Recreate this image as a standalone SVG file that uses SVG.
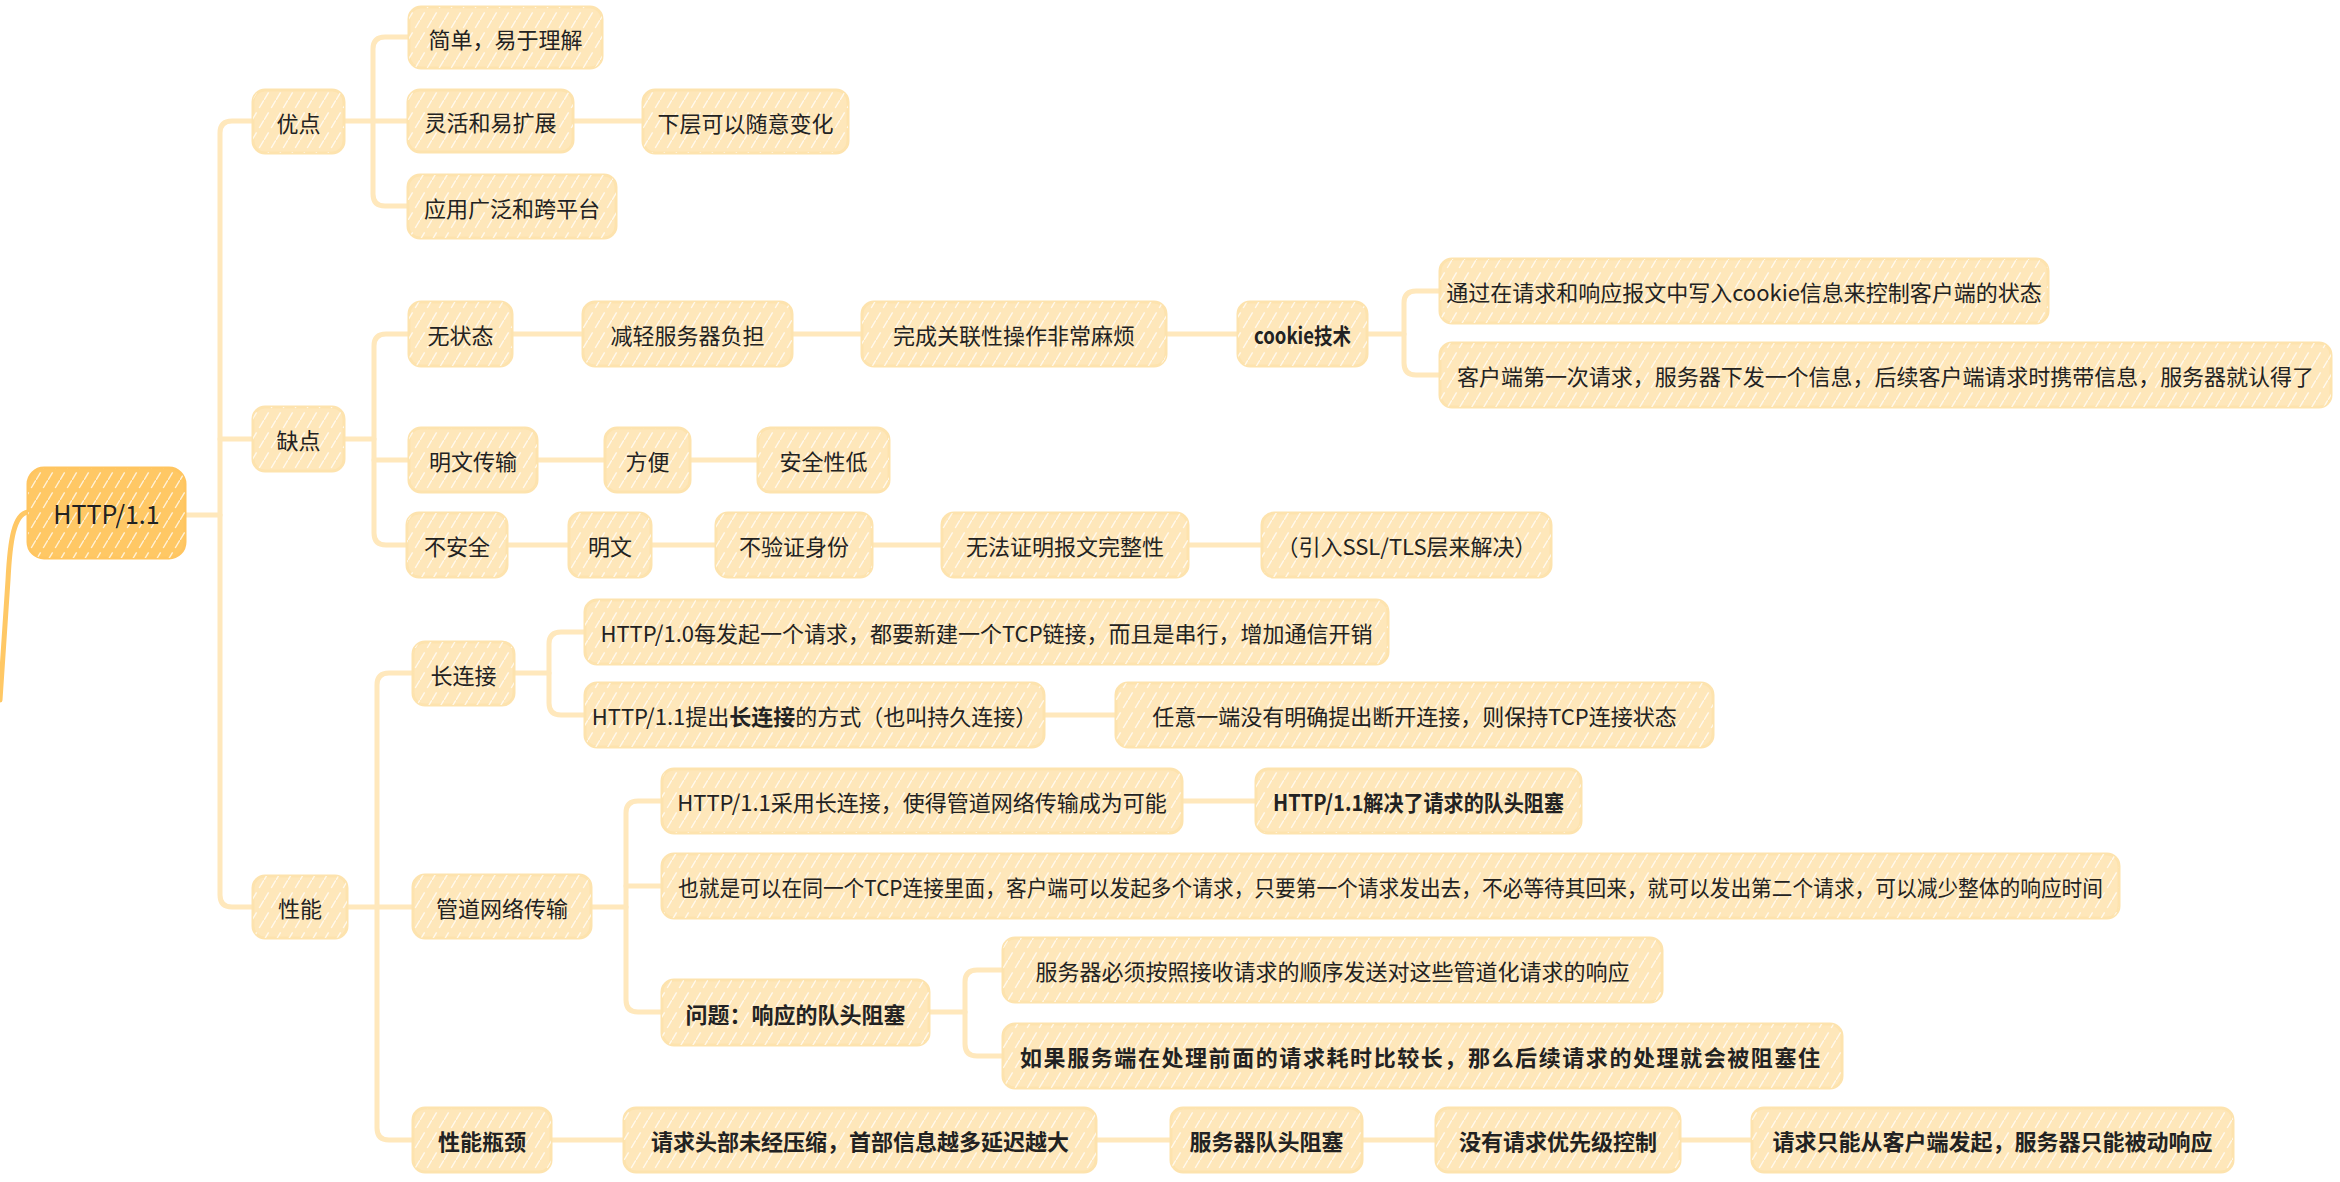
<svg xmlns="http://www.w3.org/2000/svg" width="2340" height="1182" viewBox="0 0 2340 1182">
<defs>
<pattern id="hatch" patternUnits="userSpaceOnUse" width="12" height="20">
<path d="M0 20 L12 0" stroke="#ffffff" stroke-width="1.4" stroke-opacity="0.75" stroke-dasharray="9 5"/>
</pattern>
<style>
.bg{fill:#FEE7BA;stroke:#FDE3AE;stroke-width:3}
.root .bg{fill:#FFC865;stroke:#FFC560}
.hatch{fill:url(#hatch)}
.t{font-family:"Noto Sans CJK SC","Noto Sans",sans-serif;font-size:22px;fill:#222;dominant-baseline:central;text-anchor:middle}
.s{text-anchor:start}
.b{font-weight:700}
.conn path{fill:none;stroke:#FFE8BC;stroke-width:5;stroke-linecap:round;stroke-linejoin:round}
.conn path.up{stroke:#FFC865}
</style>
</defs>
<rect width="2340" height="1182" fill="#ffffff"/>

<g id="connectors" class="conn">
<path class="up" d="M 28 512 C 14 514 10 540 8 580 L 0 700"/>
<path d="M 185 515 H 220"/>
<path d="M 253 121 H 232 Q 220 121 220 133 V 895 Q 220 907 232 907 H 253"/>
<path d="M 220 439 H 253"/>
<path d="M 344 121 H 408"/>
<path d="M 409 37 H 385 Q 373 37 373 49 V 194 Q 373 206 385 206 H 408"/>
<path d="M 573 121 H 643"/>
<path d="M 344 439 H 374"/>
<path d="M 409 334 H 386 Q 374 334 374 346 V 533 Q 374 545 386 545 H 407"/>
<path d="M 374 460 H 409"/>
<path d="M 512 334 H 583"/>
<path d="M 792 334 H 862"/>
<path d="M 1166 334 H 1238"/>
<path d="M 1367 334 H 1404"/>
<path d="M 1440 291 H 1416 Q 1404 291 1404 303 V 363 Q 1404 375 1416 375 H 1440"/>
<path d="M 537 460 H 605"/>
<path d="M 690 460 H 758"/>
<path d="M 507 545 H 569"/>
<path d="M 651 545 H 716"/>
<path d="M 872 545 H 942"/>
<path d="M 1188 545 H 1262"/>
<path d="M 347 907 H 377"/>
<path d="M 413 673 H 389 Q 377 673 377 685 V 1128 Q 377 1140 389 1140 H 413"/>
<path d="M 377 907 H 413"/>
<path d="M 514 673 H 549"/>
<path d="M 585 632 H 561 Q 549 632 549 644 V 703 Q 549 715 561 715 H 585"/>
<path d="M 1044 715 H 1116"/>
<path d="M 591 907 H 626"/>
<path d="M 662 801 H 638 Q 626 801 626 813 V 1000 Q 626 1012 638 1012 H 662"/>
<path d="M 626 886 H 662"/>
<path d="M 1182 801 H 1256"/>
<path d="M 929 1012 H 965"/>
<path d="M 1003 970 H 977 Q 965 970 965 982 V 1044 Q 965 1056 977 1056 H 1003"/>
<path d="M 551 1140 H 624"/>
<path d="M 1096 1140 H 1171"/>
<path d="M 1362 1140 H 1436"/>
<path d="M 1680 1140 H 1752"/>
</g>

<g id="n-root" class="node root"><rect class="bg" x="28" y="468" width="157" height="90" rx="16"/><rect class="hatch" x="28" y="468" width="157" height="90" rx="16"/><text class="t" x="106.5" y="513" style="font-size:25px">HTTP/1.1</text></g>

<g id="n-youdian" class="node"><rect class="bg" x="253" y="90" width="91" height="63" rx="12"/><rect class="hatch" x="253" y="90" width="91" height="63" rx="12"/><text class="t" x="298.5" y="121.5">优点</text></g>
<g id="n-quedian" class="node"><rect class="bg" x="253" y="407" width="91" height="64" rx="12"/><rect class="hatch" x="253" y="407" width="91" height="64" rx="12"/><text class="t" x="298.5" y="439">缺点</text></g>
<g id="n-xingneng" class="node"><rect class="bg" x="253" y="876" width="94" height="62" rx="12"/><rect class="hatch" x="253" y="876" width="94" height="62" rx="12"/><text class="t" x="300" y="907">性能</text></g>

<g id="n-jiandan" class="node"><rect class="bg" x="409" y="7" width="193" height="61" rx="12"/><rect class="hatch" x="409" y="7" width="193" height="61" rx="12"/><text class="t" x="505.5" y="37.5">简单，易于理解</text></g>
<g id="n-linghuo" class="node"><rect class="bg" x="408" y="90" width="165" height="62" rx="12"/><rect class="hatch" x="408" y="90" width="165" height="62" rx="12"/><text class="t" x="490.5" y="121">灵活和易扩展</text></g>
<g id="n-xiaceng" class="node"><rect class="bg" x="643" y="90" width="205" height="63" rx="12"/><rect class="hatch" x="643" y="90" width="205" height="63" rx="12"/><text class="t" x="745.5" y="121.5">下层可以随意变化</text></g>
<g id="n-yingyong" class="node"><rect class="bg" x="408" y="175" width="208" height="63" rx="12"/><rect class="hatch" x="408" y="175" width="208" height="63" rx="12"/><text class="t" x="512" y="206.5">应用广泛和跨平台</text></g>

<g id="n-wuzhuangtai" class="node"><rect class="bg" x="409" y="302" width="103" height="64" rx="12"/><rect class="hatch" x="409" y="302" width="103" height="64" rx="12"/><text class="t" x="460.5" y="334">无状态</text></g>
<g id="n-jianqing" class="node"><rect class="bg" x="583" y="302" width="209" height="64" rx="12"/><rect class="hatch" x="583" y="302" width="209" height="64" rx="12"/><text class="t" x="687.5" y="334">减轻服务器负担</text></g>
<g id="n-wancheng" class="node"><rect class="bg" x="862" y="302" width="304" height="64" rx="12"/><rect class="hatch" x="862" y="302" width="304" height="64" rx="12"/><text class="t" x="1014" y="334">完成关联性操作非常麻烦</text></g>
<g id="n-cookie" class="node"><rect class="bg" x="1238" y="302" width="129" height="64" rx="12"/><rect class="hatch" x="1238" y="302" width="129" height="64" rx="12"/><text class="t b s" x="1254" y="334" textLength="97" lengthAdjust="spacingAndGlyphs">cookie技术</text></g>
<g id="n-tongguo" class="node"><rect class="bg" x="1440" y="259" width="608" height="64" rx="12"/><rect class="hatch" x="1440" y="259" width="608" height="64" rx="12"/><text class="t" x="1744" y="291">通过在请求和响应报文中写入cookie信息来控制客户端的状态</text></g>
<g id="n-kehuduan" class="node"><rect class="bg" x="1440" y="343" width="891" height="64" rx="12"/><rect class="hatch" x="1440" y="343" width="891" height="64" rx="12"/><text class="t s" x="1457" y="375" textLength="857" lengthAdjust="spacing">客户端第一次请求，服务器下发一个信息，后续客户端请求时携带信息，服务器就认得了</text></g>

<g id="n-mingwenchuanshu" class="node"><rect class="bg" x="409" y="428" width="128" height="64" rx="12"/><rect class="hatch" x="409" y="428" width="128" height="64" rx="12"/><text class="t" x="473" y="460">明文传输</text></g>
<g id="n-fangbian" class="node"><rect class="bg" x="605" y="428" width="85" height="64" rx="12"/><rect class="hatch" x="605" y="428" width="85" height="64" rx="12"/><text class="t" x="647.5" y="460">方便</text></g>
<g id="n-anquanxingdi" class="node"><rect class="bg" x="758" y="428" width="131" height="64" rx="12"/><rect class="hatch" x="758" y="428" width="131" height="64" rx="12"/><text class="t" x="823.5" y="460">安全性低</text></g>

<g id="n-buanquan" class="node"><rect class="bg" x="407" y="513" width="100" height="64" rx="12"/><rect class="hatch" x="407" y="513" width="100" height="64" rx="12"/><text class="t" x="457" y="545">不安全</text></g>
<g id="n-mingwen" class="node"><rect class="bg" x="569" y="513" width="82" height="64" rx="12"/><rect class="hatch" x="569" y="513" width="82" height="64" rx="12"/><text class="t" x="610" y="545">明文</text></g>
<g id="n-buyanzheng" class="node"><rect class="bg" x="716" y="513" width="156" height="64" rx="12"/><rect class="hatch" x="716" y="513" width="156" height="64" rx="12"/><text class="t" x="794" y="545">不验证身份</text></g>
<g id="n-wufa" class="node"><rect class="bg" x="942" y="513" width="246" height="64" rx="12"/><rect class="hatch" x="942" y="513" width="246" height="64" rx="12"/><text class="t" x="1065" y="545">无法证明报文完整性</text></g>
<g id="n-yinru" class="node"><rect class="bg" x="1262" y="513" width="289" height="64" rx="12"/><rect class="hatch" x="1262" y="513" width="289" height="64" rx="12"/><text class="t" x="1406.5" y="545">（引入SSL/TLS层来解决）</text></g>

<g id="n-changlianjie" class="node"><rect class="bg" x="413" y="642" width="101" height="63" rx="12"/><rect class="hatch" x="413" y="642" width="101" height="63" rx="12"/><text class="t" x="463.5" y="673.5">长连接</text></g>
<g id="n-http10" class="node"><rect class="bg" x="585" y="600" width="803" height="64" rx="12"/><rect class="hatch" x="585" y="600" width="803" height="64" rx="12"/><text class="t" x="986.5" y="632">HTTP/1.0每发起一个请求，都要新建一个TCP链接，而且是串行，增加通信开销</text></g>
<g id="n-http11ti" class="node"><rect class="bg" x="585" y="683" width="459" height="64" rx="12"/><rect class="hatch" x="585" y="683" width="459" height="64" rx="12"/><text class="t" x="814.5" y="715">HTTP/1.1提出<tspan class="b">长连接</tspan>的方式（也叫持久连接）</text></g>
<g id="n-renyi" class="node"><rect class="bg" x="1116" y="683" width="597" height="64" rx="12"/><rect class="hatch" x="1116" y="683" width="597" height="64" rx="12"/><text class="t" x="1414.5" y="715">任意一端没有明确提出断开连接，则保持TCP连接状态</text></g>

<g id="n-guandao" class="node"><rect class="bg" x="413" y="875" width="178" height="63" rx="12"/><rect class="hatch" x="413" y="875" width="178" height="63" rx="12"/><text class="t" x="502" y="906.5">管道网络传输</text></g>
<g id="n-http11cai" class="node"><rect class="bg" x="662" y="769" width="520" height="64" rx="12"/><rect class="hatch" x="662" y="769" width="520" height="64" rx="12"/><text class="t" x="922" y="801">HTTP/1.1采用长连接，使得管道网络传输成为可能</text></g>
<g id="n-http11jie" class="node"><rect class="bg" x="1256" y="769" width="325" height="64" rx="12"/><rect class="hatch" x="1256" y="769" width="325" height="64" rx="12"/><text class="t b s" x="1273" y="801" textLength="291" lengthAdjust="spacingAndGlyphs">HTTP/1.1解决了请求的队头阻塞</text></g>
<g id="n-yejiushi" class="node"><rect class="bg" x="662" y="854" width="1457" height="64" rx="12"/><rect class="hatch" x="662" y="854" width="1457" height="64" rx="12"/><text class="t s" x="678" y="886" textLength="1425" lengthAdjust="spacingAndGlyphs">也就是可以在同一个TCP连接里面，客户端可以发起多个请求，只要第一个请求发出去，不必等待其回来，就可以发出第二个请求，可以减少整体的响应时间</text></g>
<g id="n-wenti" class="node"><rect class="bg" x="662" y="980" width="267" height="65" rx="12"/><rect class="hatch" x="662" y="980" width="267" height="65" rx="12"/><text class="t b" x="795.5" y="1012.5">问题：响应的队头阻塞</text></g>
<g id="n-fuwuqi" class="node"><rect class="bg" x="1003" y="938" width="659" height="64" rx="12"/><rect class="hatch" x="1003" y="938" width="659" height="64" rx="12"/><text class="t" x="1332.5" y="970">服务器必须按照接收请求的顺序发送对这些管道化请求的响应</text></g>
<g id="n-ruguo" class="node"><rect class="bg" x="1003" y="1024" width="839" height="64" rx="12"/><rect class="hatch" x="1003" y="1024" width="839" height="64" rx="12"/><text class="t b s" x="1020" y="1056" textLength="800" lengthAdjust="spacing">如果服务端在处理前面的请求耗时比较长，那么后续请求的处理就会被阻塞住</text></g>

<g id="n-pingjing" class="node"><rect class="bg" x="413" y="1108" width="138" height="64" rx="12"/><rect class="hatch" x="413" y="1108" width="138" height="64" rx="12"/><text class="t b" x="482" y="1140">性能瓶颈</text></g>
<g id="n-qingqiutou" class="node"><rect class="bg" x="624" y="1108" width="472" height="64" rx="12"/><rect class="hatch" x="624" y="1108" width="472" height="64" rx="12"/><text class="t b" x="860" y="1140">请求头部未经压缩，首部信息越多延迟越大</text></g>
<g id="n-duitou" class="node"><rect class="bg" x="1171" y="1108" width="191" height="64" rx="12"/><rect class="hatch" x="1171" y="1108" width="191" height="64" rx="12"/><text class="t b" x="1266.5" y="1140">服务器队头阻塞</text></g>
<g id="n-youxianji" class="node"><rect class="bg" x="1436" y="1108" width="244" height="64" rx="12"/><rect class="hatch" x="1436" y="1108" width="244" height="64" rx="12"/><text class="t b" x="1558" y="1140">没有请求优先级控制</text></g>
<g id="n-zhineng" class="node"><rect class="bg" x="1752" y="1108" width="481" height="64" rx="12"/><rect class="hatch" x="1752" y="1108" width="481" height="64" rx="12"/><text class="t b" x="1992.5" y="1140">请求只能从客户端发起，服务器只能被动响应</text></g>
</svg>
